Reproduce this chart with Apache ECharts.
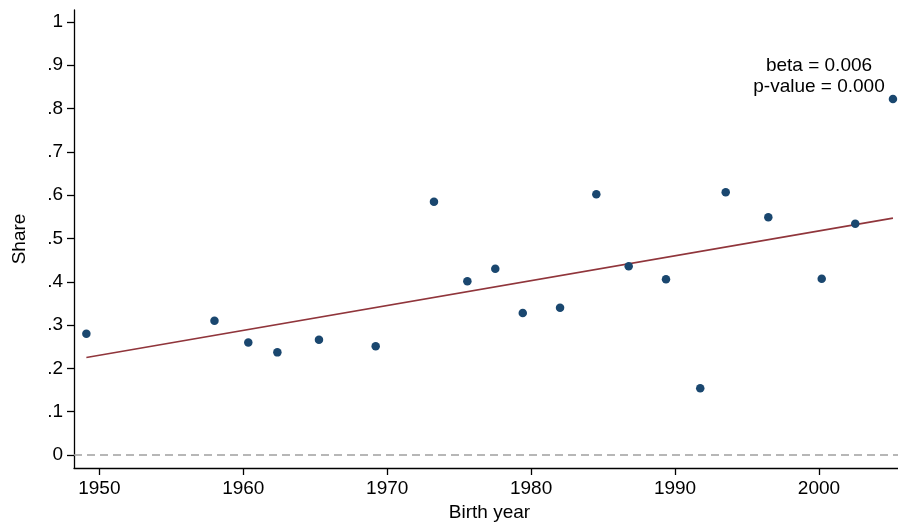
<!DOCTYPE html>
<html>
<head>
<meta charset="utf-8">
<script src="https://cdn.jsdelivr.net/npm/echarts@6/dist/echarts.min.js"></script>
<style>
html,body{margin:0;padding:0;background:#fff;}
#chart{width:898px;height:527px;}
</style>
</head>
<body>
<div id="chart"></div>
<script>
// Data
const birthYears = [1949.1, 1958.0, 1960.35, 1962.37, 1965.26, 1969.2, 1973.25, 1975.57, 1977.51, 1979.42, 1982.01, 1984.53, 1986.78, 1989.37, 1991.75, 1993.52, 1996.48, 2000.19, 2002.52, 2005.14];
const shares = [0.280, 0.310, 0.260, 0.237, 0.266, 0.251, 0.585, 0.401, 0.430, 0.328, 0.340, 0.602, 0.436, 0.406, 0.154, 0.607, 0.549, 0.407, 0.534, 0.822];
const fitYears = [1949.1, 2005.14];
const fitShares = [0.225, 0.547];
const xTicks = [1950, 1960, 1970, 1980, 1990, 2000];
const xTickLabels = ['1950', '1960', '1970', '1980', '1990', '2000'];
const yTicks = [0, 0.1, 0.2, 0.3, 0.4, 0.5, 0.6, 0.7, 0.8, 0.9, 1];
const yTickLabels = ['0', '.1', '.2', '.3', '.4', '.5', '.6', '.7', '.8', '.9', '1'];
const annotationText = 'beta = 0.006\np-value = 0.000';
const xTitle = 'Birth year';
const yTitle = 'Share';

const FONT = "'Liberation Sans', Arial, Helvetica, sans-serif";
const chart = echarts.init(document.getElementById('chart'), null, {renderer: 'canvas'});

const scatterData = birthYears.map((x, i) => [x, shares[i]]);
const fitData = fitYears.map((x, i) => [x, fitShares[i]]);

function lookup(ticks, labels) {
  return function (v) {
    const i = ticks.findIndex(t => Math.abs(t - v) < 1e-9);
    return i >= 0 ? labels[i] : '';
  };
}

chart.setOption({
  animation: false,
  backgroundColor: '#fff',
  grid: {left: 74, right: 0, top: 10, bottom: 57.7, containLabel: false},
  xAxis: {
    type: 'value',
    min: 1948.24,
    max: 2005.49,
    name: xTitle,
    nameLocation: 'middle',
    nameGap: 35,
    nameTextStyle: {fontFamily: FONT, fontSize: 19, color: '#000', padding: [0, 0, 0, 7]},
    axisLine: {show: true, onZero: false, lineStyle: {color: '#000', width: 1.3}},
    axisTick: {show: true, length: 7, lineStyle: {color: '#000', width: 1.3}, customValues: xTicks},
    axisLabel: {show: true, margin: 11, fontFamily: FONT, fontSize: 19, color: '#000', customValues: xTicks,
      formatter: lookup(xTicks, xTickLabels)},
    splitLine: {show: false}
  },
  yAxis: {
    type: 'value',
    min: -0.03,
    max: 1.0276,
    name: yTitle,
    nameLocation: 'middle',
    nameGap: 45,
    nameRotate: 90,
    nameTextStyle: {fontFamily: FONT, fontSize: 19, color: '#000'},
    axisLine: {show: true, onZero: false, lineStyle: {color: '#000', width: 1.3}},
    axisTick: {show: true, length: 7, lineStyle: {color: '#000', width: 1.3}, customValues: yTicks},
    axisLabel: {
      show: true, margin: 11, fontFamily: FONT, fontSize: 19, color: '#000',
      customValues: yTicks,
      formatter: lookup(yTicks, yTickLabels)
    },
    splitLine: {show: false}
  },
  series: [
    {
      type: 'line',
      data: fitData,
      symbol: 'none',
      lineStyle: {color: '#90353b', width: 1.6},
      z: 2,
      markLine: {
        silent: true,
        symbol: ['none', 'none'],
        label: {show: false},
        lineStyle: {color: '#a0a0a0', width: 1.6, type: [8, 5]},
        data: [{yAxis: 0}]
      }
    },
    {
      type: 'scatter',
      data: scatterData,
      symbol: 'circle',
      symbolSize: 8.5,
      itemStyle: {color: '#1a476f', opacity: 1},
      z: 3
    }
  ],
  graphic: [{
    type: 'text',
    x: 819,
    y: 55,
    style: {
      text: annotationText,
      align: 'center',
      verticalAlign: 'top',
      font: '19px ' + FONT,
      lineHeight: 21,
      fill: '#000'
    }
  }]
});
</script>
</body>
</html>
